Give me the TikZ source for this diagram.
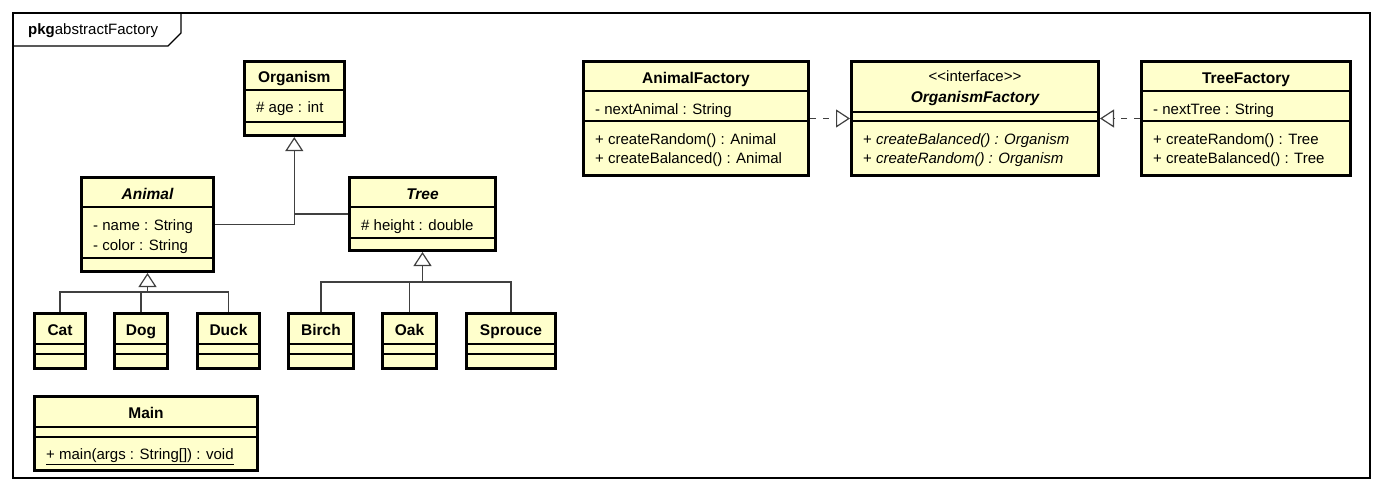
\documentclass[tikz,border=0pt]{standalone}
\usepackage{fontspec}
\setmainfont{Liberation Sans}
\usetikzlibrary{positioning,arrows.meta}
\definecolor{classfill}{RGB}{255,255,204}

\begin{document}
\begin{tikzpicture}[
x=1pt, y=-1pt,
font=\fontsize{15}{18}\selectfont,
classbox/.style={rectangle, draw=black, line width=2.6pt, fill=classfill, anchor=north west, inner sep=0pt},
nametext/.style={font=\fontsize{15.5}{18}\selectfont\bfseries, anchor=base, inner sep=0pt},
membertext/.style={anchor=base west, inner sep=0pt, xshift=13pt},
compline/.style={draw=black, line width=1.1pt},
wire/.style={draw=black!75, line width=1.2pt},
inherit/.style={wire, -{Triangle[open, length=14pt, width=18pt]}},
realize/.style={inherit, dash pattern=on 6pt off 7pt},
]
\useasboundingbox (0,0) rectangle (1384,492);

% Package frame
\draw[line width=1.2pt] (13,13) rectangle (1370,478);
\draw[line width=1.2pt] (13,46) -- (168,46) -- (181,33) -- (181,13);
\node[anchor=base west, inner sep=0pt] (pkglabel) at (28,35) {\textbf{pkg}abstractFactory};

% Organism
\node[classbox, minimum width=100pt, minimum height=74.5pt] (organism) at (243,60) {};
\node[nametext] (organismname) at (organism.north |- 0,83) {Organism};
\draw[compline] (organism.west |- 0,90) -- (organism.east |- 0,90);
\draw[compline] (organism.west |- 0,122) -- (organism.east |- 0,122);
\node[membertext] (organismage) at (organism.west |- 0,112.5) {\# age : int};

% Animal
\node[classbox, minimum width=132.4pt, minimum height=94.4pt] (animal) at (80,176) {};
\node[nametext] (animalname) at (animal.north |- 0,199) {\itshape Animal};
\draw[compline] (animal.west |- 0,207) -- (animal.east |- 0,207);
\draw[compline] (animal.west |- 0,258) -- (animal.east |- 0,258);
\node[membertext] (animalname) at (animal.west |- 0,230.5) {- name : String};
\node[membertext] (animalcolor) at (animal.west |- 0,250) {- color : String};

% Tree
\node[classbox, minimum width=146.4pt, minimum height=73.4pt] (tree) at (348,176) {};
\node[nametext] (treename) at (tree.north |- 0,199) {\itshape Tree};
\draw[compline] (tree.west |- 0,207) -- (tree.east |- 0,207);
\draw[compline] (tree.west |- 0,238) -- (tree.east |- 0,238);
\node[membertext] (treeheight) at (tree.west |- 0,230.5) {\# height : double};

% Animals
\node[classbox, minimum width=51.4pt, minimum height=55.4pt] (cat) at (33,312) {};
\node[nametext] (catname) at (cat.north |- 0,335) {Cat};
\draw[compline] (cat.west |- 0,344) -- (cat.east |- 0,344);
\draw[compline] (cat.west |- 0,354) -- (cat.east |- 0,354);

\node[classbox, minimum width=53.4pt, minimum height=55.4pt] (dog) at (113,312) {};
\node[nametext] (dogname) at (dog.north |- 0,335) {Dog};
\draw[compline] (dog.west |- 0,344) -- (dog.east |- 0,344);
\draw[compline] (dog.west |- 0,354) -- (dog.east |- 0,354);

\node[classbox, minimum width=62.4pt, minimum height=55.4pt] (duck) at (196,312) {};
\node[nametext] (duckname) at (duck.north |- 0,335) {Duck};
\draw[compline] (duck.west |- 0,344) -- (duck.east |- 0,344);
\draw[compline] (duck.west |- 0,354) -- (duck.east |- 0,354);

% Trees
\node[classbox, minimum width=65.4pt, minimum height=55.4pt] (birch) at (287,312) {};
\node[nametext] (birchname) at (birch.north |- 0,335) {Birch};
\draw[compline] (birch.west |- 0,344) -- (birch.east |- 0,344);
\draw[compline] (birch.west |- 0,354) -- (birch.east |- 0,354);

\node[classbox, minimum width=54.4pt, minimum height=55.4pt] (oak) at (381,312) {};
\node[nametext] (oakname) at (oak.north |- 0,335) {Oak};
\draw[compline] (oak.west |- 0,344) -- (oak.east |- 0,344);
\draw[compline] (oak.west |- 0,354) -- (oak.east |- 0,354);

\node[classbox, minimum width=89.4pt, minimum height=55.4pt] (sprouce) at (465,312) {};
\node[nametext] (sprucename) at (sprouce.north |- 0,335) {Sprouce};
\draw[compline] (sprouce.west |- 0,344) -- (sprouce.east |- 0,344);
\draw[compline] (sprouce.west |- 0,354) -- (sprouce.east |- 0,354);

% Main
\node[classbox, minimum width=223.4pt, minimum height=74.4pt] (main) at (33,395) {};
\node[nametext] (mainname) at (main.north |- 0,418) {Main};
\draw[compline] (main.west |- 0,427) -- (main.east |- 0,427);
\draw[compline] (main.west |- 0,437) -- (main.east |- 0,437);
\node[membertext] (mainmethod) at (main.west |- 0,459.5) {\underline{+ main(args : String[]) : void}};

% AnimalFactory
\node[classbox, minimum width=225.4pt, minimum height=114.4pt] (animalfactory) at (582,60) {};
\node[nametext] (animalfactoryname) at (animalfactory.north |- 0,84) {AnimalFactory};
\draw[compline] (animalfactory.west |- 0,91) -- (animalfactory.east |- 0,91);
\draw[compline] (animalfactory.west |- 0,121) -- (animalfactory.east |- 0,121);
\node[membertext] (nextanimal) at (animalfactory.west |- 0,115) {- nextAnimal : String};
\node[membertext] (animalrandom) at (animalfactory.west |- 0,144.5) {+ createRandom() : Animal};
\node[membertext] (animalbalanced) at (animalfactory.west |- 0,164) {+ createBalanced() : Animal};

% OrganismFactory
\node[classbox, minimum width=247.4pt, minimum height=114.4pt] (organismfactory) at (850,60) {};
\node[anchor=base, inner sep=0pt] (interfacetag) at (organismfactory.north |- 0,82) {<{}<interface>{}>};
\node[nametext] (organismfactoryname) at (organismfactory.north |- 0,103) {\itshape OrganismFactory};
\draw[compline] (organismfactory.west |- 0,112) -- (organismfactory.east |- 0,112);
\draw[compline] (organismfactory.west |- 0,121) -- (organismfactory.east |- 0,121);
\node[membertext] (organismbalanced) at (organismfactory.west |- 0,144.5) {+ \textit{createBalanced() : Organism}};
\node[membertext] (organismrandom) at (organismfactory.west |- 0,164) {+ \textit{createRandom() : Organism}};

% TreeFactory
\node[classbox, minimum width=209.4pt, minimum height=114.4pt] (treefactory) at (1140,60) {};
\node[nametext] (treefactoryname) at (treefactory.north |- 0,84) {TreeFactory};
\draw[compline] (treefactory.west |- 0,91) -- (treefactory.east |- 0,91);
\draw[compline] (treefactory.west |- 0,121) -- (treefactory.east |- 0,121);
\node[membertext] (nexttree) at (treefactory.west |- 0,115) {- nextTree : String};
\node[membertext] (treerandom) at (treefactory.west |- 0,144.5) {+ createRandom() : Tree};
\node[membertext] (treebalanced) at (treefactory.west |- 0,164) {+ createBalanced() : Tree};

% Arrows
\draw[inherit] (animal.east) -| (organism.south);
\draw[wire] (tree.west) -- (tree.west -| organism.south);

\draw[wire] (cat.north) -- (cat.north |- 0,292) -| (duck.north);
\draw[wire] (dog.north) -- (dog.north |- 0,292);
\draw[inherit] (animal.south |- 0,292) -- (animal.south);

\draw[wire] (birch.north) -- (birch.north |- 0,282) -| (sprouce.north);
\draw[wire] (oak.north) -- (oak.north |- 0,282);
\draw[inherit] (tree.south |- 0,282) -- (tree.south);

\draw[realize] (animalfactory) -- (organismfactory);
\draw[realize] (treefactory) -- (organismfactory);

\end{tikzpicture}
\end{document}
